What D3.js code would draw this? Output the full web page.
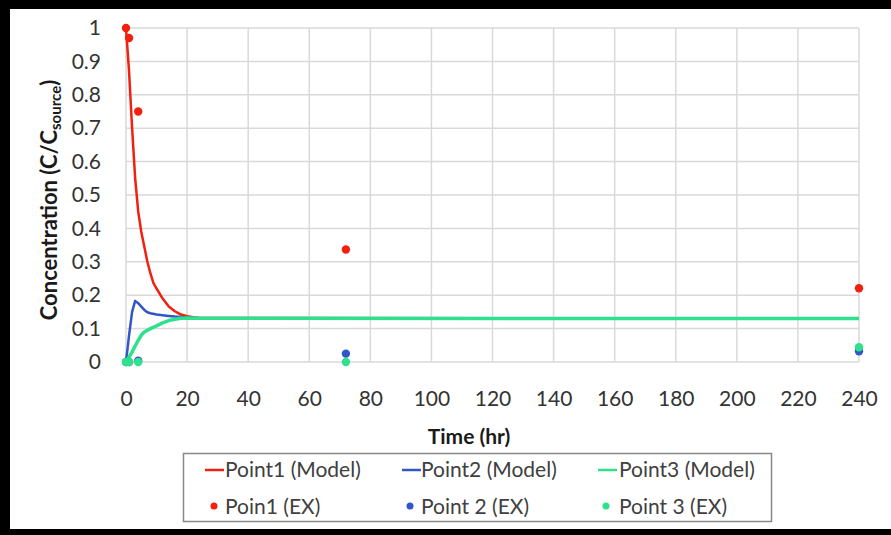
<!DOCTYPE html>
<html><head><meta charset="utf-8">
<script src="https://cdn.jsdelivr.net/npm/d3@7"></script>
<style>
html,body{margin:0;padding:0;background:#fff;overflow:hidden;}
svg{display:block;}
text{font-family:Lato,"Open Sans",sans-serif;}
</style></head>
<body>
<svg id="chart" width="891" height="535"></svg>
<script>
// ---- data ----
const xTicks = [0,20,40,60,80,100,120,140,160,180,200,220,240];
const yTicks = [0,0.1,0.2,0.3,0.4,0.5,0.6,0.7,0.8,0.9,1];
const yTickLabels = ["0","0.1","0.2","0.3","0.4","0.5","0.6","0.7","0.8","0.9","1"];

const modelTime1 = [0,1,2,3,4,5,6,7,8,9,10,12,14,16,18,20,22,24,240];
const model1 = [1,0.87,0.70,0.55,0.45,0.39,0.345,0.30,0.265,0.236,0.22,0.19,0.166,0.152,0.142,0.137,0.134,0.132,0.13];
const modelTime2 = [0,1,2,3,4,5,6,7,8,10,12,14,16,20,24,240];
const model2 = [0,0.08,0.15,0.183,0.176,0.166,0.156,0.149,0.146,0.142,0.14,0.138,0.136,0.133,0.131,0.13];
const modelTime3 = [0,1,2,3,4,5,6,8,10,12,14,16,18,20,24,240];
const model3 = [0,0.015,0.03,0.048,0.065,0.08,0.09,0.1,0.108,0.117,0.124,0.128,0.131,0.132,0.131,0.13];

const exTime = [0,1,4,72,240];
const ex1 = [1.0,0.97,0.75,0.337,0.221];
const ex2 = [0,0,0.004,0.025,0.032];
const ex3 = [0,0,0,0,0.044];

const seriesNames = ["Point1 (Model)","Point2 (Model)","Point3 (Model)"];
const dotNames = ["Poin1 (EX)","Point 2 (EX)","Point 3 (EX)"];
const colors = ["#f2200f","#3056c8","#2fe08c"];

// ---- chart ----
const svg = d3.select("#chart");
const x = d3.scaleLinear().domain([0,240]).range([126,859]);
const y = d3.scaleLinear().domain([0,1]).range([362,28]);

svg.append("rect").attr("x",0).attr("y",0).attr("width",891).attr("height",535).attr("fill","#fff");

// grid
svg.append("g").selectAll("line").data(xTicks).join("line")
  .attr("x1",d=>x(d)).attr("x2",d=>x(d)).attr("y1",y(0)).attr("y2",y(1))
  .attr("stroke","#d9d9d9").attr("stroke-width",1.5);
svg.append("g").selectAll("line").data(yTicks).join("line")
  .attr("x1",x(0)).attr("x2",x(240)).attr("y1",d=>y(d)).attr("y2",d=>y(d))
  .attr("stroke","#d9d9d9").attr("stroke-width",1.5);

// axes (labels only)
const yAxis = d3.axisLeft(y).tickValues(yTicks).tickSize(0).tickPadding(0)
  .tickFormat((d,i)=>yTickLabels[i]);
const gy = svg.append("g").attr("transform",`translate(${101},0)`).call(yAxis);
gy.select(".domain").remove();
gy.selectAll("text").attr("font-size",21).attr("fill","#333").attr("font-family","Lato");

const xAxis = d3.axisBottom(x).tickValues(xTicks).tickSize(0).tickPadding(0).tickFormat(d3.format("d"));
const gx = svg.append("g").attr("transform",`translate(0,${391})`).call(xAxis);
gx.select(".domain").remove();
gx.selectAll("text").attr("font-size",21).attr("fill","#333").attr("font-family","Lato");

// lines
const line = d3.line().x(d=>x(d[0])).y(d=>y(d[1]));
const modelData = [
  d3.zip(modelTime1, model1),
  d3.zip(modelTime2, model2),
  d3.zip(modelTime3, model3)
];
const widths = [2.5,2.5,3.5];
modelData.forEach((d,i)=>{
  svg.append("path").datum(d).attr("d",line).attr("fill","none")
    .attr("stroke",colors[i]).attr("stroke-width",widths[i]).attr("stroke-linejoin","round");
});

// dots
[ex1,ex2,ex3].forEach((vals,i)=>{
  svg.append("g").selectAll("circle").data(d3.zip(exTime,vals)).join("circle")
    .attr("cx",d=>x(d[0])).attr("cy",d=>y(d[1])).attr("r",4.2).attr("fill",colors[i]);
});

// axis titles
svg.append("text").attr("x",469).attr("y",444).attr("text-anchor","middle")
  .attr("font-size",21).attr("font-weight","bold").attr("fill","#1a1a1a").text("Time (hr)");

const yt = svg.append("text").attr("transform","translate(57,200) rotate(-90)")
  .attr("text-anchor","middle").attr("font-size",22).attr("font-weight","bold").attr("fill","#1a1a1a");
yt.append("tspan").text("Concentration (C/C");
yt.append("tspan").attr("font-size",15).attr("dy",4).text("source");
yt.append("tspan").attr("dy",-4).text(")");

// legend
svg.append("rect").attr("x",183.5).attr("y",453.5).attr("width",588).attr("height",68)
  .attr("fill","#fff").attr("stroke","#888").attr("stroke-width",1.5);
const lineX = [205,402,598];
const textX = [225,421,619];
const dotX = [214,410,606];
seriesNames.forEach((n,i)=>{
  svg.append("line").attr("x1",lineX[i]).attr("x2",lineX[i]+19).attr("y1",470).attr("y2",470)
    .attr("stroke",colors[i]).attr("stroke-width",2.5);
  svg.append("text").attr("x",textX[i]).attr("y",477).attr("font-size",21).attr("fill","#404040").text(n);
});
dotNames.forEach((n,i)=>{
  svg.append("circle").attr("cx",dotX[i]).attr("cy",506).attr("r",3.5).attr("fill",colors[i]);
  svg.append("text").attr("x",textX[i]).attr("y",514).attr("font-size",21).attr("fill","#404040").text(n);
});

// outer black frame
svg.append("rect").attr("x",0).attr("y",0).attr("width",891).attr("height",9).attr("fill","#000");
svg.append("rect").attr("x",0).attr("y",0).attr("width",10).attr("height",535).attr("fill","#000");
svg.append("rect").attr("x",0).attr("y",529).attr("width",891).attr("height",6).attr("fill","#000");
</script>
</body></html>
